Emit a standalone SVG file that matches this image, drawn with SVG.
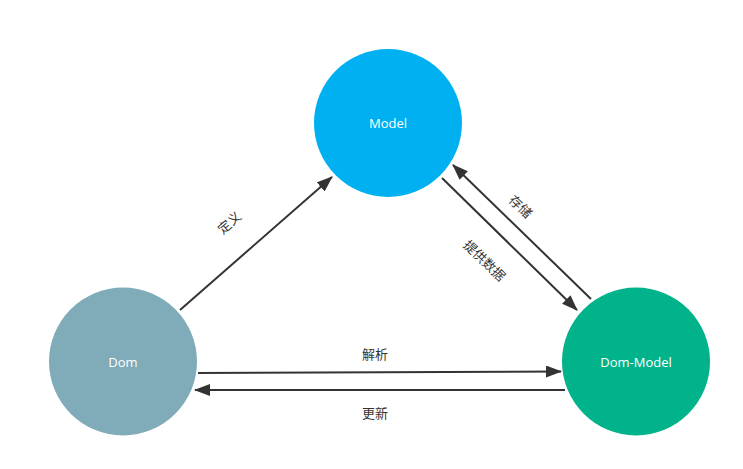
<svg xmlns="http://www.w3.org/2000/svg" width="743" height="469" viewBox="0 0 743 469">
<style>
.node-label{font-family:"Open Sans","Noto Sans",sans-serif;font-size:13px;fill:#ffffff;text-anchor:middle;dominant-baseline:central}
.edge-label{font-family:"Noto Sans CJK SC","Noto Sans",sans-serif;font-size:13px;fill:#333333;text-anchor:middle;dominant-baseline:central}
.edge{stroke:#333333;stroke-width:2;fill:none;marker-end:url(#arrow)}
</style>
<defs>
<marker id="arrow" viewBox="0 0 16 12" refX="15" refY="6" markerWidth="16" markerHeight="12" markerUnits="userSpaceOnUse" orient="auto">
<path d="M0,0 L16,6 L0,12 Z" fill="#333333"/>
</marker>
</defs>
<rect width="743" height="469" fill="#ffffff"/>
<g id="connectors">
<line class="edge" x1="180" y1="310" x2="332" y2="177"/>
<line class="edge" x1="198" y1="373" x2="561" y2="371.5"/>
<line class="edge" x1="565" y1="390" x2="195" y2="390"/>
<line class="edge" x1="442" y1="178" x2="577" y2="310"/>
<line class="edge" x1="591" y1="299" x2="453" y2="165"/>
<text class="edge-label" transform="translate(229,222) rotate(-41)">定义</text>
<text class="edge-label" transform="translate(485,260) rotate(44)">提供数据</text>
<text class="edge-label" transform="translate(521,206) rotate(44)">存储</text>
<text class="edge-label" x="375" y="353">解析</text>
<text class="edge-label" x="375" y="412">更新</text>
</g>
<g id="node-model">
<circle cx="388" cy="123" r="74" fill="#00b0f0"/>
<text class="node-label" x="388" y="123">Model</text>
</g>
<g id="node-dom">
<circle cx="123" cy="361.5" r="74" fill="#80abb9"/>
<text class="node-label" x="123" y="361.5">Dom</text>
</g>
<g id="node-dommodel">
<circle cx="636" cy="361.5" r="74" fill="#00b38a"/>
<text class="node-label" x="636" y="361.5">Dom-Model</text>
</g>
</svg>
